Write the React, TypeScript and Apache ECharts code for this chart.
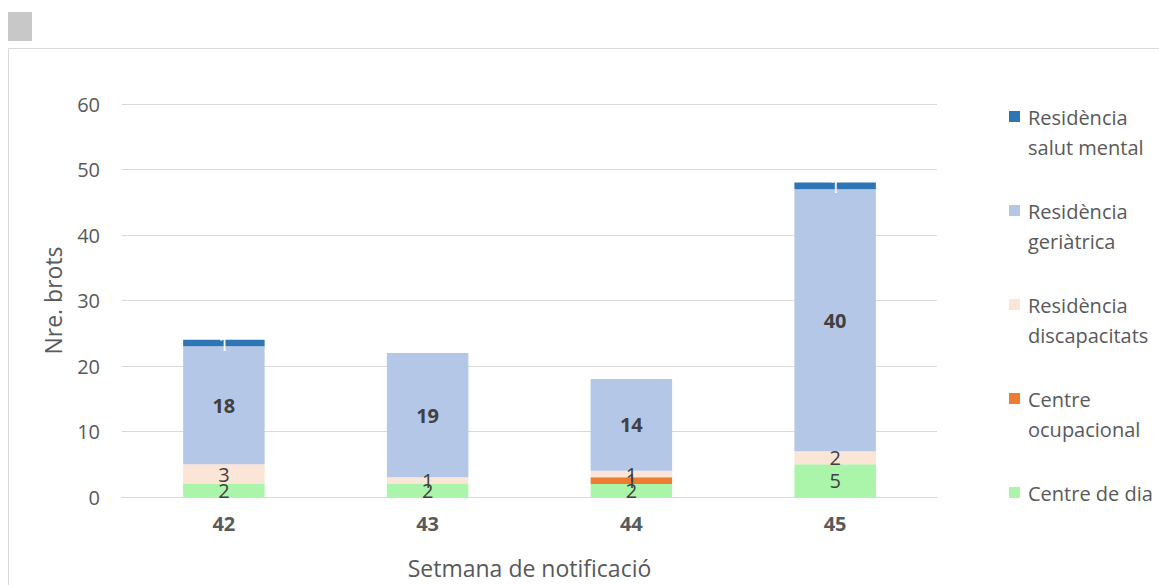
import React, { useEffect, useRef } from "react";
import * as echarts from "echarts";

const weeks = ["42", "43", "44", "45"];
const seriesNames = [
  "Centre de dia",
  "Centre ocupacional",
  "Residència discapacitats",
  "Residència geriàtrica",
  "Residència salut mental",
];
const legendLabels = [
  "Centre de dia",
  "Centre\nocupacional",
  "Residència\ndiscapacitats",
  "Residència\ngeriàtrica",
  "Residència\nsalut mental",
];
const centreDia = [2, 2, 2, 5];
const centreOcupacional = [null, null, 1, null];
const residenciaDiscapacitats = [3, 1, 1, 2];
const residenciaGeriatrica = [18, 19, 14, 40];
const residenciaSalutMental = [1, null, null, 1];
const colors = ["#ABF5AB", "#ED7D31", "#FBE5D6", "#B4C7E7", "#2E75B6"];
const yTicks = [0, 10, 20, 30, 40, 50, 60];

const FONT = "'Open Sans', sans-serif";

export default function App() {
  const ref = useRef<HTMLDivElement>(null);
  useEffect(() => {
    if (!ref.current) return;
    const chart = echarts.init(ref.current, undefined, { renderer: "svg" });
    const values = [
      centreDia,
      centreOcupacional,
      residenciaDiscapacitats,
      residenciaGeriatrica,
      residenciaSalutMental,
    ];
    const series = values.map((d, i) => ({
      name: seriesNames[i],
      type: "bar",
      stack: "total",
      barWidth: "40%",
      data: d,
      itemStyle: { color: colors[i] },
      label: {
        show: true,
        position: "inside",
        color: i === 4 ? "#ffffff" : "#404040",
        fontSize: 20,
        fontFamily: FONT,
        fontWeight: i === 3 ? "bold" : "normal",
        formatter: (p: any) => (p.value ? String(p.value) : ""),
      },
    }));
    const legendGraphics: any[] = [];
    const order = [4, 3, 2, 1, 0];
    order.forEach((si, k) => {
      const y = 117 + k * 94;
      legendGraphics.push({
        type: "rect",
        shape: { x: 1009, y: y - 6, width: 11, height: 11 },
        style: { fill: colors[si] },
      });
      legendGraphics.push({
        type: "text",
        x: 1028,
        y: y - 15,
        style: {
          text: legendLabels[si],
          fill: "#595959",
          font: `20px ${FONT}`,
          lineHeight: 30,
          textVerticalAlign: "top",
        },
      });
    });
    chart.setOption({
      animation: false,
      backgroundColor: "#ffffff",
      grid: { left: 122, right: 222, top: 104, bottom: 88 },
      xAxis: {
        type: "category",
        data: weeks,
        name: "Setmana de notificació",
        nameLocation: "middle",
        nameGap: 59,
        nameTextStyle: { color: "#595959", fontSize: 23, fontFamily: FONT },
        axisLine: { lineStyle: { color: "#d9d9d9" } },
        axisTick: { show: false },
        axisLabel: {
          color: "#595959",
          fontSize: 20,
          fontWeight: "bold",
          fontFamily: FONT,
          margin: 16,
        },
      },
      yAxis: {
        type: "value",
        min: yTicks[0],
        max: yTicks[yTicks.length - 1],
        interval: 10,
        name: "Nre. brots",
        nameLocation: "middle",
        nameGap: 58,
        nameTextStyle: { color: "#595959", fontSize: 23, fontFamily: FONT },
        axisLine: { show: false },
        axisTick: { show: false },
        axisLabel: { color: "#595959", fontSize: 20, fontFamily: FONT, margin: 22 },
        splitLine: { lineStyle: { color: "#d9d9d9" } },
      },
      series,
      graphic: [
        {
          type: "rect",
          shape: { x: 8, y: 12, width: 24, height: 29 },
          style: { fill: "#c8c8c8" },
        },
        {
          type: "rect",
          shape: { x: 8.5, y: 48.5, width: 1200, height: 600 },
          style: { fill: "none", stroke: "#d9d9d9", lineWidth: 1 },
          z: -1,
        },
        ...legendGraphics,
      ],
    });
    return () => chart.dispose();
  }, []);
  return (
    <div
      ref={ref}
      style={{ position: "fixed", left: 0, top: 0, width: 1159, height: 585 }}
    />
  );
}
